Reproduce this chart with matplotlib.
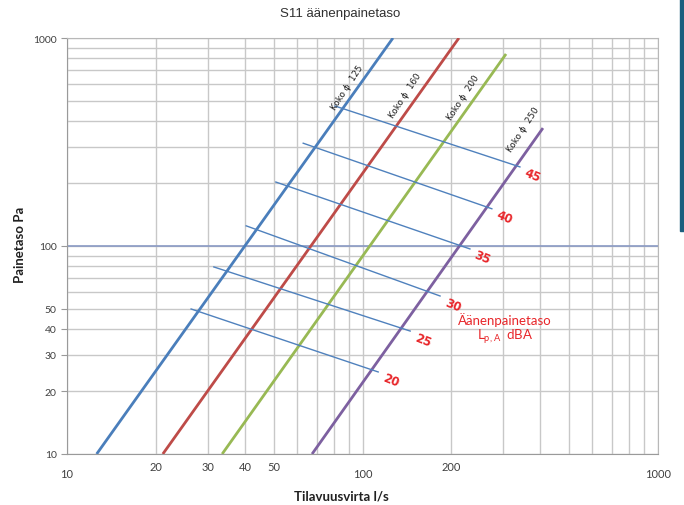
import matplotlib
matplotlib.use("Agg")
import matplotlib.pyplot as plt
from matplotlib.ticker import FixedLocator, NullFormatter, FixedFormatter
from matplotlib.patches import Rectangle
from matplotlib.transforms import ScaledTranslation

# duct size lines (P ~ q^2), endpoints
duct_sizes = [125, 160, 200, 250]
duct_colors = ['#4a7ebb', '#be4b48', '#98b954', '#7d60a0']
duct_q = [[12.6, 126.8], [21.1, 212], [33.5, 306], [67.5, 408]]
duct_p = [[10, 1000], [10, 1000], [10, 838], [10, 369]]
duct_label_q = [89, 139, 219, 349]
duct_label_p = [581, 532, 520, 365]

# sound pressure level lines
levels = [20, 25, 30, 35, 40, 45]
level_q = [[26.3, 113], [31.4, 145], [40.4, 183], [50.9, 231], [63.0, 274], [80.7, 341]]
level_p = [[49.8, 24.8], [79.3, 39.0], [125, 57.5], [203, 96.8], [312, 151], [471, 240]]

x_ticks = [10, 20, 30, 40, 50, 100, 200, 1000]
y_ticks = [10, 20, 30, 40, 50, 100, 1000]

fig = plt.figure(figsize=(6.84, 5.06), dpi=100)
ax = fig.add_axes([67/684, 1-455/506, (658-67)/684, (455-39)/506])
ax.set_xscale('log')
ax.set_yscale('log')
ax.set_xlim(10, 1000)
ax.set_ylim(10, 1000)

# grid
ax.grid(True, which='both', color='#c8c8c8', linewidth=1.0)
ax.axhline(100, color='#8a9ac4', linewidth=1.2, zorder=1)
ax.set_axisbelow(True)

for q, p, c in zip(duct_q, duct_p, duct_colors):
    ax.plot(q, p, color=c, linewidth=2.0, solid_capstyle='butt', zorder=3)

for s, lq, lp in zip(duct_sizes, duct_label_q, duct_label_p):
    ax.text(lq, lp, 'Koko ϕ  %d' % s, rotation=57, fontsize=6.3, ha='center', va='center',
            color='#202020', zorder=5)

for lev, q, p in zip(levels, level_q, level_p):
    ax.plot(q, p, color='#4f81bd', linewidth=1.0, zorder=4)
    ax.annotate(str(lev), xy=(q[1], p[1]), xytext=(9, -6), textcoords='offset points',
                color='#e8262a', fontsize=8.5, fontweight='bold', rotation=-22,
                ha='center', va='center')

ax.text(303, 40, 'Äänenpainetaso\n$\\mathregular{L_{p,A}}$  dBA', color='#e8262a', fontsize=9.5,
        ha='center', va='center', linespacing=1.05, family='Lato')

for sp in ax.spines.values():
    sp.set_color('#b8b8b8')
ax.spines['left'].set_color('#9a9a9a')
ax.spines['bottom'].set_color('#9a9a9a')

ax.xaxis.set_major_locator(FixedLocator(x_ticks))
ax.xaxis.set_major_formatter(FixedFormatter([str(v) for v in x_ticks]))
ax.xaxis.set_minor_formatter(NullFormatter())
ax.yaxis.set_major_locator(FixedLocator(y_ticks))
ax.yaxis.set_major_formatter(FixedFormatter([str(v) for v in y_ticks]))
ax.yaxis.set_minor_formatter(NullFormatter())
ax.tick_params(axis='x', which='both', length=0, pad=10, labelsize=8, labelcolor='#404040')
ax.tick_params(axis='y', which='major', length=4, color='#9a9a9a', labelsize=7.5, labelcolor='#404040')
ax.tick_params(axis='y', which='minor', length=0)
ax.xaxis.set_minor_locator(FixedLocator([d * m for d in (10, 100) for m in range(2, 10)]))
ax.yaxis.set_minor_locator(FixedLocator([d * m for d in (10, 100) for m in range(2, 10)]))

for lbl in ax.get_xticklabels() + ax.get_yticklabels():
    lbl.set_family('Lato')
# in the original the in-between x labels sit a little higher
shift = ScaledTranslation(0, 5/72, fig.dpi_scale_trans)
for v, lbl in zip(x_ticks, ax.get_xticklabels()):
    if v not in (10, 100, 1000):
        lbl.set_transform(lbl.get_transform() + shift)

fig.text(340/684, 1-14/506, 'S11 äänenpainetaso', ha='center', va='center', fontsize=9.5,
         family='Liberation Sans', color='#303030')
fig.text(20/684, 1-245/506, 'Painetaso Pa', rotation=90, ha='center', va='center',
         fontsize=9.5, fontweight='bold', family='Lato', color='#202020')
fig.text(341/684, 1-497/506, 'Tilavuusvirta l/s', ha='center', va='center',
         fontsize=9.5, fontweight='bold', family='Lato', color='#202020')

fig.patches.append(Rectangle((680/684, 1-232/506), 4/684, 232/506, transform=fig.transFigure,
                             color='#1b5e7e', zorder=10))

fig.savefig('out.png', dpi=100)
